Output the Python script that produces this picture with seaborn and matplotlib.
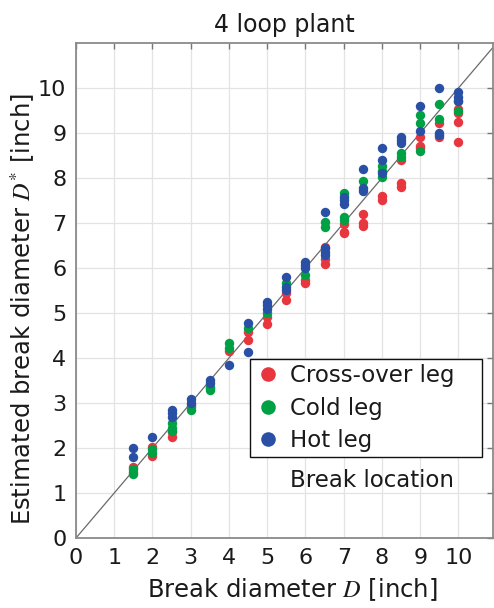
import numpy as np
import pandas as pd
import matplotlib
matplotlib.use("Agg")
import matplotlib.pyplot as plt
from matplotlib.lines import Line2D
import seaborn as sns

# Estimated break diameters per true break diameter, by break location
cross_over = {
    1.5: [1.58, 1.47], 2.0: [2.03, 1.83], 2.5: [2.25, 2.35], 3.0: [2.95],
    3.5: [3.33], 4.0: [4.16], 4.5: [4.58, 4.40], 5.0: [4.92, 4.75],
    5.5: [5.44, 5.29], 6.0: [5.73, 5.67], 6.5: [6.47, 6.21, 6.09],
    7.0: [6.98, 6.81, 6.77], 7.5: [7.20, 6.99, 6.93], 8.0: [7.60, 7.50],
    8.5: [8.41, 7.88, 7.81], 9.0: [8.92, 8.71, 8.66], 9.5: [9.23, 8.90],
    10.0: [9.53, 9.44, 9.24, 8.81],
}
cold = {
    1.5: [1.53, 1.42], 2.0: [1.98, 1.90], 2.5: [2.55, 2.44, 2.38],
    3.0: [2.92, 2.84], 3.5: [3.36, 3.29], 4.0: [4.33, 4.22], 4.5: [4.67],
    5.0: [4.99], 5.5: [5.66], 6.0: [5.84], 6.5: [7.03, 6.90],
    7.0: [7.66, 7.14, 7.07], 7.5: [7.94], 8.0: [8.27, 8.16, 8.03],
    8.5: [8.55, 8.47], 9.0: [9.40, 9.22, 8.60], 9.5: [9.64, 9.30],
    10.0: [9.70, 9.49],
}
hot = {
    1.5: [2.00, 1.80], 2.0: [2.25], 2.5: [2.84, 2.77, 2.70], 3.0: [3.09, 3.00],
    3.5: [3.51, 3.44], 4.0: [3.84], 4.5: [4.78, 4.14], 5.0: [5.25, 5.18, 5.10],
    5.5: [5.79, 5.58, 5.51], 6.0: [6.14, 6.07, 6.00],
    6.5: [7.25, 6.44, 6.36, 6.29], 7.0: [7.58, 7.50, 7.42],
    7.5: [8.21, 7.77, 7.72], 8.0: [8.66, 8.41, 8.12], 8.5: [8.92, 8.84, 8.77],
    9.0: [9.60, 9.04], 9.5: [10.01, 9.01, 8.96], 10.0: [9.90, 9.81, 9.70],
}

locations = ["Cross-over leg", "Cold leg", "Hot leg"]
colors = ["#E8363F", "#00A145", "#2A50A6"]
x_ticks = list(range(0, 11))
y_ticks = list(range(0, 11))

rows = []
for name, table in zip(locations, [cross_over, cold, hot]):
    for d, ests in table.items():
        for e in ests:
            rows.append({"D": d, "Dest": e, "loc": name})
df = pd.DataFrame(rows)

sns.set_theme(style="white")
plt.rcParams["font.family"] = ["DejaVu Sans"]
plt.rcParams["mathtext.fontset"] = "stix"

fig = plt.figure(figsize=(4.94, 6.08), dpi=100)
ax = fig.add_axes([0.1538, 0.1151, 0.8440, 0.8142])

ax.set_axisbelow(True)
ax.grid(True, color="#e3e3e3", linewidth=0.9)

ax.plot([0, 11], [0, 11], color="#6a6a6a", linewidth=0.9, zorder=1)

for name, col in zip(locations, colors):
    sns.scatterplot(data=df[df["loc"] == name], x="D", y="Dest", color=col,
                    s=46, linewidth=0, ax=ax, legend=False, zorder=3)

ax.set_xlim(0, 10.9)
ax.set_ylim(0, 11)
ax.set_xticks(x_ticks)
ax.set_yticks(y_ticks)
ax.tick_params(direction="in", length=4, width=1, color="#777777",
               top=True, right=True, labelsize=16, pad=7, labelcolor="#1a1a1a")
for sp in ax.spines.values():
    sp.set_color("#8a8a8a")
    sp.set_linewidth(1.3)

ax.set_xlabel(r"Break diameter $\mathit{D}$ [inch]", fontsize=17.5,
              color="#1a1a1a")
ax.xaxis.set_label_coords(0.52, -0.078)
ax.set_ylabel(r"Estimated break diameter $\mathit{D}^{*}$ [inch]", fontsize=17.5,
              color="#1a1a1a")
ax.yaxis.set_label_coords(-0.09, 0.463)
ax.set_title("4 loop plant", fontsize=17, color="#1a1a1a", pad=8)

handles = [Line2D([0], [0], marker="o", linestyle="none", markersize=10.5,
                  markerfacecolor=c, markeredgewidth=0) for c in colors]
leg = ax.legend(handles, locations, loc="lower left",
                bbox_to_anchor=(0.417, 0.164, 0.557, 0.192), mode="expand",
                fontsize=16.5, frameon=True, fancybox=False, borderpad=0.2,
                handletextpad=0.35, labelspacing=0.42, handlelength=1.2,
                borderaxespad=0)
leg.get_frame().set_edgecolor("#111111")
leg.get_frame().set_linewidth(1.0)
leg.get_frame().set_alpha(1)
for t in leg.get_texts():
    t.set_color("#1a1a1a")

ax.text(0.71, 0.117, "Break location", transform=ax.transAxes, ha="center",
        va="center", fontsize=16.5, color="#1a1a1a")

fig.savefig("out.png", dpi=100)
